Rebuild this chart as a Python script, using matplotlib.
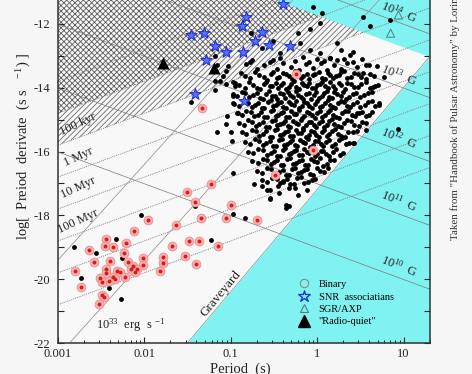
import matplotlib
matplotlib.use("Agg")
import matplotlib.pyplot as plt
import numpy as np
from matplotlib.lines import Line2D
from matplotlib.ticker import FixedLocator, FuncFormatter, LogLocator, NullFormatter

plt.rcParams["font.family"] = ["Liberation Serif", "DejaVu Serif"]
plt.rcParams["mathtext.fontset"] = "custom"
plt.rcParams["mathtext.rm"] = "Liberation Serif"
plt.rcParams["mathtext.it"] = "Liberation Serif:italic"
plt.rcParams["hatch.linewidth"] = 0.6

# === DATA (log10 P [s], log10 Pdot) ===
# normal pulsars, main island
psr_logp = [
    -0.82, -0.70, -0.62, -0.47, -0.39, -0.30, -0.21, -0.13, -0.05, 0.04, 0.11, 0.19, 0.27, 0.35, 0.46, 0.60,
    -0.88, -0.78, -0.67, -0.58, -0.51, -0.44, -0.36, -0.29, -0.23, -0.16, -0.09, -0.02, 0.05, 0.12, 0.18, 0.25, 0.31, 0.39, 0.47, 0.56, 0.66,
    -0.95, -0.84, -0.74, -0.66, -0.59, -0.52, -0.45, -0.39, -0.33, -0.27, -0.21, -0.15, -0.09, -0.03, 0.03, 0.09, 0.15, 0.21, 0.28, 0.35, 0.43, 0.51, 0.61, 0.70,
    -0.98, -0.87, -0.79, -0.70, -0.63, -0.56, -0.49, -0.43, -0.37, -0.31, -0.25, -0.19, -0.13, -0.07, -0.01, 0.05, 0.11, 0.17, 0.23, 0.30, 0.37, 0.45, 0.54, 0.64,
    -0.96, -0.85, -0.76, -0.68, -0.61, -0.54, -0.48, -0.42, -0.36, -0.30, -0.24, -0.18, -0.12, -0.06, 0.00, 0.06, 0.12, 0.18, 0.24, 0.31, 0.38, 0.46, 0.55, 0.63,
    -0.92, -0.82, -0.73, -0.65, -0.58, -0.51, -0.45, -0.39, -0.33, -0.27, -0.21, -0.15, -0.09, -0.03, 0.03, 0.09, 0.15, 0.22, 0.29, 0.36, 0.44, 0.52, 0.60,
    -0.90, -0.80, -0.71, -0.63, -0.56, -0.49, -0.43, -0.37, -0.31, -0.25, -0.19, -0.13, -0.07, -0.01, 0.05, 0.11, 0.17, 0.24, 0.31, 0.39, 0.48, 0.56,
    -0.87, -0.76, -0.67, -0.59, -0.52, -0.46, -0.40, -0.34, -0.28, -0.22, -0.16, -0.10, -0.04, 0.02, 0.08, 0.14, 0.21, 0.28, 0.36, 0.46,
    -0.83, -0.72, -0.63, -0.55, -0.48, -0.41, -0.35, -0.29, -0.23, -0.17, -0.11, -0.05, 0.01, 0.07, 0.14, 0.21, 0.29, 0.37,
    -0.80, -0.68, -0.58, -0.50, -0.43, -0.37, -0.30, -0.24, -0.18, -0.12, -0.06, 0.00, 0.07, 0.14, 0.22, 0.30,
    -0.75, -0.63, -0.54, -0.46, -0.39, -0.32, -0.25, -0.18, -0.11, -0.04, 0.03, 0.11, 0.19,
    -0.70, -0.58, -0.48, -0.40, -0.33, -0.26, -0.19, -0.12, -0.05, 0.03, 0.12,
    -0.64, -0.52, -0.43, -0.35, -0.27, -0.19, -0.11, -0.02,
    -0.58, -0.44, -0.33, -0.22, -0.12,
    -0.75, -0.55, -0.43, -0.26, -0.17, -0.09, 0.00, 0.08, 0.15, 0.23, 0.31, 0.41, 0.52,
    -0.83, -0.72, -0.62, -0.54, -0.47, -0.40, -0.33, -0.26, -0.19, -0.12, -0.05, 0.02, 0.09, 0.15, 0.22, 0.28, 0.35, 0.43, 0.51, 0.61,
    -0.90, -0.79, -0.70, -0.62, -0.55, -0.48, -0.42, -0.36, -0.30, -0.24, -0.18, -0.12, -0.06, 0.00, 0.06, 0.12, 0.18, 0.25, 0.32, 0.39, 0.47, 0.56, 0.65,
    -0.93, -0.83, -0.74, -0.66, -0.59, -0.52, -0.46, -0.40, -0.34, -0.28, -0.22, -0.16, -0.10, -0.04, 0.02, 0.08, 0.14, 0.20, 0.27, 0.33, 0.41, 0.50, 0.59,
    -0.90, -0.80, -0.72, -0.64, -0.57, -0.51, -0.45, -0.39, -0.33, -0.27, -0.21, -0.15, -0.09, -0.03, 0.03, 0.09, 0.15, 0.21, 0.28, 0.35, 0.42, 0.50, 0.59, 0.67,
    -0.87, -0.77, -0.69, -0.61, -0.54, -0.48, -0.42, -0.36, -0.30, -0.24, -0.18, -0.12, -0.06, 0.00, 0.06, 0.12, 0.18, 0.25, 0.32, 0.40, 0.48, 0.56, 0.64,
    -0.85, -0.75, -0.67, -0.59, -0.52, -0.46, -0.40, -0.34, -0.28, -0.22, -0.16, -0.10, -0.04, 0.02, 0.08, 0.14, 0.20, 0.27, 0.35, 0.43, 0.52,
    -0.82, -0.71, -0.63, -0.55, -0.49, -0.43, -0.37, -0.31, -0.25, -0.19, -0.13, -0.07, -0.01, 0.05, 0.11, 0.17, 0.24, 0.32, 0.41,
    -0.78, -0.67, -0.59, -0.51, -0.44, -0.38, -0.32, -0.26, -0.20, -0.14, -0.08, -0.02, 0.04, 0.10, 0.17, 0.25, 0.33,
    -0.74, -0.63, -0.54, -0.46, -0.40, -0.33, -0.27, -0.21, -0.15, -0.09, -0.03, 0.04, 0.10, 0.18, 0.26,
    -0.69, -0.58, -0.50, -0.42, -0.35, -0.28, -0.21, -0.14, -0.07, 0.00, 0.07, 0.15,
    -0.64, -0.53, -0.44, -0.36, -0.29, -0.22, -0.15, -0.08, 0.00, 0.08,
    -0.58, -0.47, -0.39, -0.31, -0.23, -0.15, -0.06,
    -0.77, -0.51, 0.23, 0.28, 0.42, 0.38, -0.20, -0.08, -0.64, -0.43, 0.03, 0.15, -0.51, -0.78,
    0.57, 0.69, 0.77, 0.53, 0.67, 0.71, 0.46, 0.57, 0.42,
    -0.73, -0.64, -0.55, -0.45, -0.55, -0.40, -0.26, -0.33, -0.36, -0.55, -0.36, -0.98, -0.84,
    -1.18, -1.16, -1.03, -1.05, -1.09, -1.18, -1.13, -0.97, -1.06, -1.18, -0.95, -0.97, -0.98,
    -1.46, -0.93, -1.04, -1.16, -1.06, -1.00, -0.99, -0.97,
    -2.82, -2.73, -2.56, -2.33, -2.26, -2.41, -2.27, -2.04, -1.41, -1.23,
    -0.05, 0.05, 0.53, 0.61, 0.84, -0.22, -0.08, 0.03, 0.94, 0.43, 0.72,
]
psr_logpd = [
    -13.25, -13.40, -13.30, -13.42, -13.22, -13.35, -13.45, -13.27, -13.38, -13.24, -13.43, -13.30, -13.40, -13.22, -13.36, -13.30,
    -13.55, -13.70, -13.60, -13.75, -13.52, -13.65, -13.58, -13.72, -13.50, -13.63, -13.74, -13.56, -13.68, -13.53, -13.71, -13.60, -13.49, -13.66, -13.57, -13.73, -13.62,
    -13.85, -14.00, -13.90, -14.05, -13.82, -13.95, -14.02, -13.86, -13.97, -13.80, -14.04, -13.92, -13.84, -14.00, -13.88, -13.96, -13.81, -14.03, -13.91, -13.85, -13.99, -13.87, -14.02, -13.93,
    -14.20, -14.12, -14.30, -14.18, -14.35, -14.10, -14.25, -14.15, -14.32, -14.22, -14.11, -14.28, -14.19, -14.34, -14.14, -14.26, -14.09, -14.31, -14.21, -14.13, -14.29, -14.17, -14.24, -14.12,
    -14.50, -14.42, -14.60, -14.47, -14.63, -14.40, -14.55, -14.45, -14.62, -14.51, -14.41, -14.58, -14.48, -14.64, -14.43, -14.56, -14.39, -14.61, -14.49, -14.44, -14.59, -14.46, -14.53, -14.42,
    -14.80, -14.72, -14.90, -14.77, -14.93, -14.70, -14.85, -14.75, -14.92, -14.81, -14.71, -14.88, -14.78, -14.94, -14.73, -14.86, -14.69, -14.91, -14.79, -14.74, -14.89, -14.76, -14.84,
    -15.10, -15.02, -15.20, -15.07, -15.23, -15.00, -15.15, -15.05, -15.22, -15.11, -15.01, -15.18, -15.08, -15.24, -15.03, -15.16, -14.99, -15.21, -15.09, -15.04, -15.19, -15.12,
    -15.40, -15.32, -15.50, -15.37, -15.53, -15.30, -15.45, -15.35, -15.52, -15.41, -15.31, -15.48, -15.38, -15.54, -15.33, -15.46, -15.29, -15.51, -15.39, -15.36,
    -15.70, -15.62, -15.80, -15.67, -15.83, -15.60, -15.75, -15.65, -15.82, -15.71, -15.61, -15.78, -15.68, -15.84, -15.63, -15.76, -15.59, -15.72,
    -16.00, -15.92, -16.10, -15.97, -16.13, -15.90, -16.05, -15.95, -16.12, -16.01, -15.91, -16.08, -15.98, -16.14, -15.93, -16.04,
    -16.30, -16.22, -16.40, -16.27, -16.43, -16.20, -16.35, -16.25, -16.42, -16.31, -16.21, -16.38, -16.28,
    -16.60, -16.52, -16.70, -16.57, -16.73, -16.50, -16.65, -16.55, -16.72, -16.61, -16.53,
    -16.90, -16.82, -17.00, -16.87, -17.03, -16.80, -16.95, -16.85,
    -17.20, -17.30, -17.15, -17.35, -17.22,
    -13.12, -13.18, -13.08, -13.15, -13.05, -13.20, -13.10, -13.17, -13.06, -13.14, -13.09, -13.19, -13.11,
    -13.62, -13.50, -13.67, -13.58, -13.70, -13.54, -13.63, -13.48, -13.68, -13.57, -13.61, -13.51, -13.73, -13.59, -13.64, -13.52, -13.69, -13.55, -13.66, -13.58,
    -13.92, -13.83, -14.01, -13.89, -13.96, -13.84, -13.93, -14.03, -13.88, -13.98, -13.85, -13.95, -14.02, -13.90, -13.82, -14.00, -13.94, -13.86, -14.04, -13.89, -13.97, -13.83, -13.99,
    -14.26, -14.16, -14.23, -14.33, -14.19, -14.27, -14.35, -14.20, -14.14, -14.30, -14.24, -14.36, -14.16, -14.22, -14.31, -14.18, -14.28, -14.13, -14.25, -14.34, -14.21, -14.29, -14.15,
    -14.56, -14.47, -14.53, -14.62, -14.45, -14.57, -14.49, -14.60, -14.44, -14.54, -14.63, -14.46, -14.58, -14.52, -14.61, -14.47, -14.55, -14.64, -14.43, -14.57, -14.50, -14.60, -14.45, -14.56,
    -14.86, -14.76, -14.84, -14.93, -14.74, -14.88, -14.79, -14.91, -14.73, -14.83, -14.95, -14.77, -14.87, -14.80, -14.92, -14.75, -14.85, -14.94, -14.72, -14.86, -14.78, -14.90, -14.76,
    -15.16, -15.06, -15.14, -15.23, -15.04, -15.18, -15.09, -15.21, -15.03, -15.13, -15.25, -15.07, -15.17, -15.10, -15.22, -15.05, -15.15, -15.24, -15.02, -15.16, -15.08,
    -15.46, -15.36, -15.44, -15.53, -15.34, -15.48, -15.39, -15.51, -15.33, -15.43, -15.55, -15.37, -15.47, -15.40, -15.52, -15.35, -15.45, -15.54, -15.38,
    -15.76, -15.66, -15.74, -15.83, -15.64, -15.78, -15.69, -15.81, -15.63, -15.73, -15.85, -15.67, -15.77, -15.70, -15.82, -15.65, -15.75,
    -16.06, -15.96, -16.04, -16.13, -15.94, -16.08, -15.99, -16.11, -15.93, -16.03, -16.15, -15.97, -16.07, -16.00, -16.12,
    -16.36, -16.26, -16.34, -16.43, -16.24, -16.38, -16.29, -16.41, -16.23, -16.33, -16.45, -16.27,
    -16.66, -16.56, -16.64, -16.73, -16.54, -16.68, -16.59, -16.71, -16.53, -16.63,
    -16.96, -16.86, -16.94, -17.03, -16.84, -16.98, -16.89,
    -12.29, -12.55, -12.60, -12.81, -12.87, -12.97, -12.60, -12.81, -12.76, -12.92, -12.92, -13.07, -13.13, -13.18,
    -13.28, -13.33, -13.65, -13.54, -13.96, -14.48, -14.79, -15.31, -15.73,
    -17.03, -17.08, -17.19, -17.08, -17.47, -16.93, -17.13, -17.71, -17.78, -17.50, -17.68, -17.95, -18.07,
    -13.02, -13.28, -13.33, -13.49, -13.63, -13.78, -13.80, -13.83, -13.88, -14.06, -13.96, -14.27, -14.48,
    -14.46, -14.79, -14.88, -15.40, -15.13, -15.40, -15.68, -16.67,
    -18.98, -19.97, -19.17, -18.73, -19.34, -20.27, -20.63, -18.00, -17.71, -18.78,
    -11.46, -11.65, -11.77, -12.08, -11.88, -12.29, -12.17, -11.98, -15.29, -15.73, -14.53,
]

# binary pulsars
bin_logp = [
    -1.96, -2.12, -2.44, -2.64, -2.46, -2.36, -2.21, -2.58, -2.24, -2.80, -2.40, -2.19, -2.02, -2.02,
    -2.44, -2.32, -2.28, -2.13, -2.09, -2.15, -2.11, -2.22, -2.36, -2.44, -2.51, -2.41, -2.34, -2.49,
    -2.73, -2.49, -2.47, -2.53, -1.68, -1.78, -1.78, -1.82, -1.53, -1.23, -1.51, -1.41, -1.35, -1.00,
    -1.06, -1.63, -1.48, -1.37, -1.15, -1.40, -0.70, -1.33, -0.24, -0.05, -0.49,
]
bin_logpd = [
    -18.16, -18.49, -18.73, -19.08, -18.96, -18.99, -18.88, -19.46, -19.19, -19.73, -19.43, -19.46, -19.35, -19.55,
    -19.67, -19.73, -19.77, -19.58, -19.69, -19.69, -19.79, -19.92, -19.92, -19.81, -19.96, -20.06, -19.98, -20.10,
    -20.25, -20.50, -20.57, -20.79, -18.96, -19.48, -19.32, -19.74, -19.27, -17.03, -17.26, -17.58, -18.07, -17.69,
    -18.07, -18.30, -18.80, -18.80, -18.96, -19.53, -18.16, -14.63, -13.56, -15.96, -16.72,
]

# supernova remnant associations
snr_logp = [-1.46, -1.31, -1.18, -1.05, -1.29, -1.41, -0.39, -0.82, -0.87, -0.64, -0.72, -0.56, -0.32, -0.86, -0.85]
snr_logpd = [-12.34, -12.29, -12.68, -12.87, -13.13, -14.19, -11.38, -11.77, -12.08, -12.26, -12.55, -12.66, -12.69, -12.87, -14.43]

# SGR / AXP
sgr_logp = [0.94, 0.85]
sgr_logpd = [-11.72, -12.29]

# radio-quiet
rq_logp = [-1.79, -1.19]
rq_logpd = [-13.23, -13.37]

age_yr = [1e3, 1e4, 1e5, 1e6, 1e7, 1e8, 1e9, 1e10]
bfield_g = [1e10, 1e11, 1e12, 1e13, 1e14]
edot_erg = [1e33, 1e36]

# === SETUP ===
fig = plt.figure(figsize=(4.72, 3.74), dpi=100, facecolor="#f6f6f6")
ax = fig.add_axes([58 / 472, 31 / 374, 371.6 / 472, 351 / 374])
ax.set_facecolor("#f8f8f8")

X0, X1 = -3.0, np.log10(20.0)
Y0, Y1 = -22.0, -11.0
CYAN = "#80f2f2"
YR = 3.156e7


def age_line(lp, tau):
    return lp - np.log10(2 * tau * YR)


def b_line(lp, b):
    return 2 * (np.log10(b) - 19.505) - lp


def edot_line(lp, e):
    return np.log10(e) - 46.4 + 3 * lp


# death line / critical field
death_p0, death_slope = -1.503, 3.2
lp = np.linspace(X0, X1, 300)
death = Y0 + death_slope * (lp - death_p0)
bcrit = b_line(lp, 4.4e13)

# cyan zones
m = lp >= death_p0
ax.fill_between(10 ** lp[m], Y0, np.minimum(death[m], Y1), color=CYAN, lw=0, zorder=1)
ax.fill_between(10 ** lp, np.minimum(bcrit, Y1), Y1, where=bcrit < Y1, color=CYAN, lw=0, zorder=1)

# hatched zones (young objects)
xa = (b_line(0, 4.4e13) + np.log10(2 * 1e4 * YR)) / 2
xb = (b_line(0, 4.4e13) + np.log10(2 * 1e5 * YR)) / 2
xt = b_line(0, 4.4e13) - Y1
cross_x = [X0, xa, xt, X0]
cross_y = [age_line(X0, 1e4), age_line(xa, 1e4), Y1, Y1]
ax.fill(10 ** np.array(cross_x), cross_y, facecolor="none", edgecolor="#5c5c5c",
        hatch="xxxxxx", lw=0, zorder=1.5)
diag_x = [X0, xb, xa, X0]
diag_y = [age_line(X0, 1e5), age_line(xb, 1e5), age_line(xa, 1e4), age_line(X0, 1e4)]
ax.fill(10 ** np.array(diag_x), diag_y, facecolor="none", edgecolor="#6a6a6a",
        hatch="//////", lw=0, zorder=1.5)

# guide lines
for tau in age_yr:
    ax.plot(10 ** lp, age_line(lp, tau), ls=(0, (1.2, 1.2)), color="#7a7a7a", lw=0.6, zorder=2)
for b in bfield_g:
    ax.plot(10 ** lp, b_line(lp, b), color="#7a7a7a", lw=0.5, zorder=2)
for e in edot_erg:
    ax.plot(10 ** lp, edot_line(lp, e), color="#9a9a9a", lw=0.6, zorder=2)
ax.plot(10 ** lp[m], death[m], color="#6a9a9a", lw=0.5, zorder=2)

# === POINTS ===
ax.scatter(10 ** np.array(psr_logp), psr_logpd, s=12, c="black", lw=0, zorder=4)
ax.scatter(10 ** np.array(bin_logp), bin_logpd, s=40, facecolor="#f6b4b4",
           edgecolor="#ec8a8a", lw=0.6, zorder=5)
ax.scatter(10 ** np.array(bin_logp), bin_logpd, s=8, c="#e01818", lw=0, zorder=6)
ax.scatter(10 ** np.array(snr_logp), snr_logpd, s=75, marker="*", facecolor="#5a70ff",
           edgecolor="#1a2ad0", lw=0.7, zorder=6)
ax.scatter(10 ** np.array(sgr_logp), sgr_logpd, s=34, marker="^", facecolor="none",
           edgecolor="#4f7f7f", lw=0.7, zorder=6)
ax.scatter(10 ** np.array(rq_logp), rq_logpd, s=75, marker="^", c="black", lw=0, zorder=6)

# === LABELS ===
tkw = dict(fontsize=9, color="#222222", ha="center", va="center", zorder=7)
age_labels = [("100 kyr", -15.16), ("1 Myr", -16.17), ("10 Myr", -17.13), ("100 Myr", -18.18)]
for txt, yv in age_labels:
    ax.text(0.00171, yv, txt, rotation=25, **tkw)

b_labels = [("10^{14}", -11.62), ("10^{13}", -13.59), ("10^{12}", -15.56),
            ("10^{11}", -17.56), ("10^{10}", -19.59)]
for txt, yv in b_labels:
    ax.text(9.0, yv, r"$\mathit{" + txt + r"}$  G", rotation=-22, **tkw)

ax.text(0.0070, -21.44, r"10$^{33}$  erg  s $^{-1}$", **tkw)
ax.text(0.076, -20.45, "Graveyard", rotation=50, fontsize=9.5, color="#222222",
        ha="center", va="center", zorder=7)

fig.text(24 / 472, 1 - 146 / 374, r"log[  Preiod  derivate  (s s   $^{-1}$) ]",
         rotation=90, ha="center", va="center", fontsize=10.5, color="#222222")
fig.text(240 / 472, 1 - 363 / 374, "Period  (s)", ha="center", va="top",
         fontsize=10.5, color="#222222")
fig.text(455 / 472, 1 - 240 / 374, 'Taken from "Handbook of Pulsar Astronomy" by Lorimer',
         rotation=90, ha="center", va="bottom", fontsize=7.8, color="#333333")

# === AXES ===
ax.set_xscale("log")
ax.set_xlim(10 ** X0, 10 ** X1)
ax.set_ylim(Y0, Y1)
ax.xaxis.set_major_locator(LogLocator(base=10, numticks=10))
ax.xaxis.set_minor_locator(LogLocator(base=10, subs=np.arange(2, 10), numticks=20))
ax.xaxis.set_minor_formatter(NullFormatter())
ax.xaxis.set_major_formatter(FuncFormatter(lambda v, _: f"{v:g}"))
ax.yaxis.set_major_locator(FixedLocator(np.arange(-22, -10)))
ax.yaxis.set_major_formatter(FuncFormatter(lambda v, _: f"{v:.0f}" if int(round(v)) % 2 == 0 else ""))
ax.tick_params(axis="both", which="major", direction="in", length=4, width=0.8,
               labelsize=9, colors="#222222", right=True)
ax.tick_params(axis="y", pad=5.5)
ax.tick_params(axis="x", pad=3.5)
ax.tick_params(axis="x", which="minor", direction="in", length=2, width=0.6)
for sp in ax.spines.values():
    sp.set_linewidth(1.1)
    sp.set_color("#333333")

handles = [
    Line2D([], [], ls="none", marker="o", ms=6, mfc="none", mec="#888888", mew=0.8),
    Line2D([], [], ls="none", marker="*", ms=9, mfc="none", mec="#1a2ad0", mew=0.9),
    Line2D([], [], ls="none", marker="^", ms=6, mfc="none", mec="#4f7f7f", mew=0.8),
    Line2D([], [], ls="none", marker="^", ms=8, mfc="black", mec="black"),
]
labels = ["Binary", "SNR  associatians", "SGR/AXP", '"Radio-quiet"']
ax.legend(handles, labels, loc="upper left", bbox_to_anchor=(0.645, 0.18), frameon=False,
          fontsize=7.5, handlelength=1.2, handletextpad=0.8, labelspacing=0.3,
          borderpad=0, borderaxespad=0)

fig.savefig("out.png", dpi=100, facecolor=fig.get_facecolor())
